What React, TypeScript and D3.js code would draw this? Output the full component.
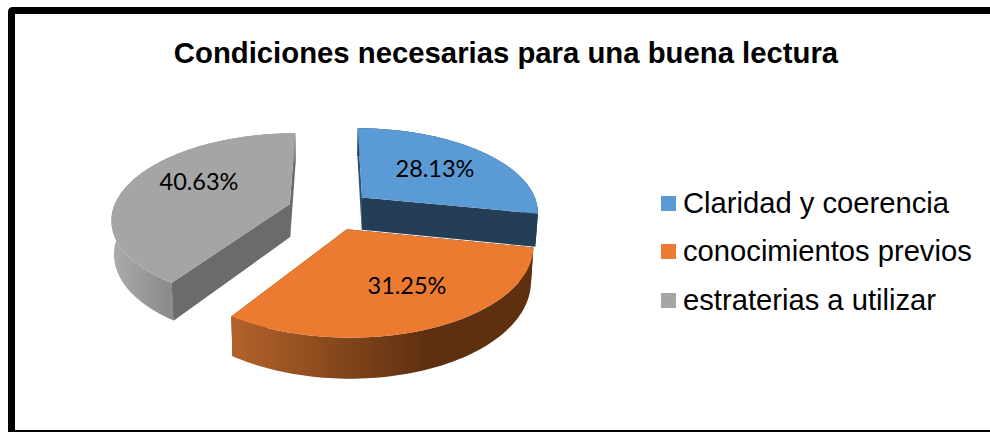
import * as d3 from "d3";

const title = "Condiciones necesarias para una buena lectura";
const categories = ["Claridad y coerencia", "conocimientos previos", "estraterias a utilizar"];
const values = [28.13, 31.25, 40.63];
const labels = ["28.13%", "31.25%", "40.63%"];

const colors = ["#5b9bd5", "#eb7b30", "#a5a5a5"];
const wallColors = ["#243e55", "#5f3010", "#6b6b6b"];
const rearWallColors = ["#2f5272", "#5f3010", "#8c8c8c"];
const labelPos = [[435, 171], [407, 288], [199, 184]];
const legendY = [203.5, 251.5, 300.5];

// pie projection, fitted by eye: ground plane seen in perspective
const cx = 330, cy = 210, R = 177, flat = 0.475, persp = 0.16;
const explode = 0.24, depth = 33, converge = 0.012;
const STEPS = 80;

type Pt = [number, number];

function project(gx: number, gz: number, low = false): Pt {
  const s = 1 / (1 - persp * gz);
  const x = R * gx * s, y = R * flat * gz * s;
  if (!low) return [cx + x, cy + y];
  return [cx + x * (1 - converge), cy + y + depth * s];
}

const line = d3.line();

const arcs = d3.pie<number>().sort(null)(values);

function wedge(i: number) {
  const a = arcs[i];
  const mid = (a.startAngle + a.endAngle) / 2;
  const ox = explode * Math.sin(mid), oz = -explode * Math.cos(mid);
  const at = (ang: number, r: number, low = false) =>
    project(ox + r * Math.sin(ang), oz - r * Math.cos(ang), low);
  const angs = d3.range(STEPS + 1).map(k => a.startAngle + (a.endAngle - a.startAngle) * k / STEPS);
  const rimTop = angs.map(t => at(t, 1));
  const rimLow = angs.map(t => at(t, 1, true));
  const apex = at(0, 0), apexLow = at(0, 0, true);
  return {
    top: line([apex, ...rimTop])! + "Z",
    rim: line([...rimTop, ...rimLow.slice().reverse()])! + "Z",
    startWall: line([apex, rimTop[0], rimLow[0], apexLow])! + "Z",
    endWall: line([apex, rimTop[STEPS], rimLow[STEPS], apexLow])! + "Z",
  };
}

// grey is behind, then blue, orange comes last
const order = [2, 0, 1];
const rimFill = ["#243e55", "url(#rimOrange)", "url(#rimGrey)"];

export default function App() {
  return (
    <svg width={990} height={432} style={{ position: "fixed", left: 0, top: 0, background: "#fff" }}>
      <defs>
        <linearGradient id="rimOrange" gradientUnits="userSpaceOnUse" x1={233} x2={425} y1={0} y2={0}>
          <stop offset="0" stopColor="#b4622a" />
          <stop offset="1" stopColor="#5f3010" />
        </linearGradient>
        <linearGradient id="rimGrey" gradientUnits="userSpaceOnUse" x1={110} x2={175} y1={0} y2={0}>
          <stop offset="0" stopColor="#adadad" />
          <stop offset="1" stopColor="#888888" />
        </linearGradient>
      </defs>

      <path d="M8 432V12Q8 7 13 7H990V14H15V430H990V432Z" fill="#000" />

      <text x={506} y={63} textAnchor="middle" fontFamily="Liberation Sans" fontWeight="bold" fontSize={29.3}>
        {title}
      </text>

      {order.map(i => {
        const w = wedge(i);
        return (
          <g key={i}>
            <path d={w.startWall} fill={i === 1 ? wallColors[i] : rearWallColors[i]} />
            <path d={w.endWall} fill={wallColors[i]} />
            <path d={w.rim} fill={rimFill[i]} />
            {i === 2 && <path d={w.startWall} fill={wallColors[i]} />}
            <path d={w.top} fill={colors[i]} />
          </g>
        );
      })}

      {labels.map((t, i) => (
        <text key={t} x={labelPos[i][0]} y={labelPos[i][1]} textAnchor="middle" dominantBaseline="middle"
          fontFamily="Lato" fontSize={23.5} fill="#000">
          {t}
        </text>
      ))}

      {categories.map((c, i) => (
        <g key={c}>
          <rect x={661} y={legendY[i] - 7.5} width={15} height={15} fill={colors[i]} />
          <text x={683} y={legendY[i] + 9} fontFamily="Liberation Sans" fontSize={29.2} fill="#000">{c}</text>
        </g>
      ))}
    </svg>
  );
}
